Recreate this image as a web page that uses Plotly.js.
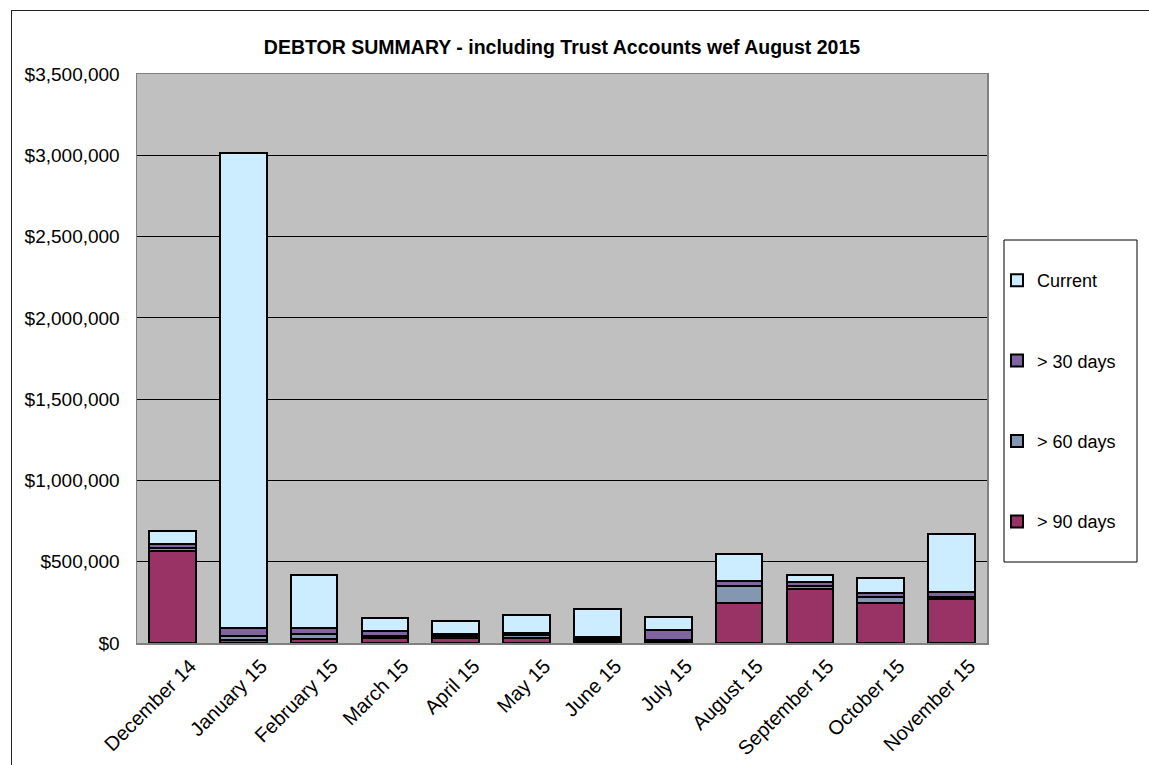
<!DOCTYPE html>
<html>
<head>
<meta charset="utf-8">
<script src="https://cdn.plot.ly/plotly-3.0.1.min.js"></script>
<style>
  html, body { margin: 0; padding: 0; background: #fff; }
  #wrap { position: relative; width: 1149px; height: 765px; overflow: hidden; }
  #chart { position: absolute; left: 0; top: 0; width: 1149px; height: 765px; }
  #frame { position: absolute; left: 11px; top: 10px; width: 1300px; height: 900px;
           border: 1px solid #222; pointer-events: none; }
</style>
</head>
<body>
<div id="wrap">
  <div id="chart"></div>
  <div id="frame"></div>
</div>
<script>
const months = ['December 14','January 15','February 15','March 15','April 15','May 15',
                'June 15','July 15','August 15','September 15','October 15','November 15'];
const over90  = [565000,   20000,  23000, 33000, 33000,  28000,  12000, 12000, 246000, 333000, 246000, 272000];
const over60  = [ 18000,   22000,  30000, 10000, 10000,  20000,  10000,  8000, 105000,  15000,  35000,  10000];
const over30  = [ 25000,   48000,  37000, 29000, 15000,  15000,  12000, 62000,  28000,  28000,  25000,  30000];
const current = [ 80000, 2925000, 326000, 80000, 80000, 108000, 178000, 80000, 169000,  42000,  96000, 358000];
const seriesNames = ['> 90 days', '> 60 days', '> 30 days', 'Current'];
const seriesColors = ['#993366', '#8497B0', '#8064A2', '#CCECFF'];
const seriesValues = [over90, over60, over30, current];
const legendRanks = [4, 3, 2, 1];

const font = 'Arial, "Liberation Sans", sans-serif';

const traces = seriesValues.map((vals, i) => ({
  type: 'bar',
  name: seriesNames[i],
  x: months,
  y: vals,
  legendgroup: 'g' + i,
  legendrank: legendRanks[i],
  marker: { color: seriesColors[i], line: { color: '#000000', width: 2 } },
  hoverinfo: 'skip'
}));

const layout = {
  width: 1149, height: 765,
  margin: { l: 137, r: 162, t: 74, b: 122 },
  paper_bgcolor: 'rgba(0,0,0,0)',
  plot_bgcolor: '#C0C0C0',
  barmode: 'stack',
  bargap: 0.34,
  showlegend: true,
  title: {
    text: 'DEBTOR SUMMARY - including Trust Accounts wef August 2015',
    font: { family: font, size: 19.5, color: '#000', weight: 'bold' },
    x: 0.5, xref: 'paper', xanchor: 'center',
    y: 1 - 47 / 765, yref: 'container', yanchor: 'middle'
  },
  xaxis: {
    type: 'category',
    tickangle: -45,
    tickfont: { family: font, size: 20, color: '#000' },
    ticklabelshift: 18,
    ticklabelstandoff: 2,
    showline: true, linecolor: '#808080', linewidth: 1.5, mirror: true,
    showgrid: false, ticks: '', fixedrange: true
  },
  yaxis: {
    range: [0, 3500000],
    tick0: 0, dtick: 500000,
    tickformat: '$,.0f',
    tickfont: { family: font, size: 19, color: '#000' },
    ticklabelstandoff: 12,
    showgrid: true, gridcolor: '#000000', gridwidth: 1,
    zeroline: false,
    showline: true, linecolor: '#808080', linewidth: 1.5, mirror: true,
    ticks: '', fixedrange: true
  },
  legend: {
    x: (997 - 137) / 850, xanchor: 'left',
    y: (643 - 262) / 569, yanchor: 'top',
    traceorder: 'grouped',
    tracegroupgap: 54,
    bgcolor: 'rgba(0,0,0,0)',
    borderwidth: 0,
    font: { family: font, size: 18, color: '#000' },
    itemwidth: 30
  },
  shapes: [{
    type: 'rect', xref: 'paper', yref: 'paper',
    x0: (1004 - 137) / 850, x1: (1137 - 137) / 850,
    y0: (643 - 562) / 569, y1: (643 - 240) / 569,
    line: { color: '#000', width: 1 }, fillcolor: '#FFFFFF', layer: 'below'
  }]
};

Plotly.newPlot('chart', traces, layout, { displayModeBar: false, staticPlot: true });
</script>
</body>
</html>
